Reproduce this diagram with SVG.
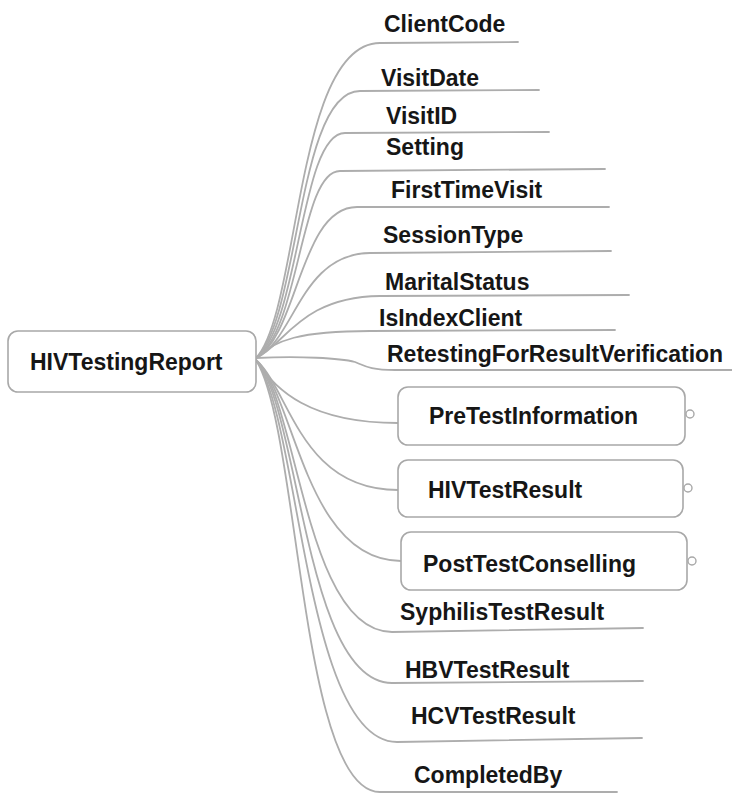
<svg xmlns="http://www.w3.org/2000/svg" width="732" height="794" viewBox="0 0 732 794">
  <style>
    .bg { fill: #ffffff; }
    .link { fill: none; stroke: #adadad; stroke-width: 1.8; stroke-linecap: round; }
    .box { fill: #ffffff; stroke: #a8a8a8; stroke-width: 1.6; }
    .knob { fill: #ffffff; stroke: #a8a8a8; stroke-width: 1.4; }
    .label { font-family: "Liberation Sans", Arial, sans-serif; font-weight: bold; font-size: 23px; fill: #161616; }
  </style>
  <rect class="bg" x="0" y="0" width="732" height="794"/>

  <!-- connectors from the root node -->
  <g id="connectors">
    <path class="link" d="M256,358 C300,311 295,43 380,43 L518,42"/>
    <path class="link" d="M256,358 C300,318 297,91 360,91 L539,90"/>
    <path class="link" d="M256,358 C300,324 300,133 345,133 L549,132"/>
    <path class="link" d="M256,358 C300,330 300,171 340,171 L605,169"/>
    <path class="link" d="M256,358 C298,335 300,207 357,207 L609,207"/>
    <path class="link" d="M256,358 C295,340 300,254 370,253 L611,251"/>
    <path class="link" d="M256,358 C285,345 300,297 380,296 L629,295"/>
    <path class="link" d="M256,358 C275,340 300,331 370,331 L615,330"/>
    <path class="link" d="M256,358 C300,356 340,358 355,362 C365,366 370,370 395,370 L732,370"/>
    <path class="link" d="M256,360 C275,390 310,423 398,423"/>
    <path class="link" d="M256,360 C290,390 300,490 398,490"/>
    <path class="link" d="M256,360 C295,395 305,561 401,561"/>
    <path class="link" d="M256,360 C298,400 305,632 392,632 L643,628"/>
    <path class="link" d="M256,360 C300,410 305,683 392,683 L643,681"/>
    <path class="link" d="M256,360 C300,420 305,742 397,742 L642,738"/>
    <path class="link" d="M256,360 C300,430 300,792 380,792 L617,792"/>
  </g>

  <!-- root -->
  <g id="root">
    <rect class="box" x="8" y="331" width="248" height="61" rx="10"/>
    <text class="label" x="30" y="370">HIVTestingReport</text>
  </g>

  <!-- leaf attributes -->
  <g id="client-code"><text class="label" x="384" y="32">ClientCode</text></g>
  <g id="visit-date"><text class="label" x="381" y="86">VisitDate</text></g>
  <g id="visit-id"><text class="label" x="386" y="124">VisitID</text></g>
  <g id="setting"><text class="label" x="386" y="155">Setting</text></g>
  <g id="first-time-visit"><text class="label" x="391" y="198">FirstTimeVisit</text></g>
  <g id="session-type"><text class="label" x="383" y="243">SessionType</text></g>
  <g id="marital-status"><text class="label" x="385" y="290">MaritalStatus</text></g>
  <g id="is-index-client"><text class="label" x="379" y="326">IsIndexClient</text></g>
  <g id="retesting"><text class="label" x="387" y="362">RetestingForResultVerification</text></g>

  <!-- collapsed sub-topics -->
  <g id="pre-test-information">
    <rect class="box" x="398" y="387" width="287" height="58" rx="10"/>
    <text class="label" x="429" y="424">PreTestInformation</text>
    <circle class="knob" cx="690" cy="414" r="4"/>
  </g>
  <g id="hiv-test-result">
    <rect class="box" x="398" y="460" width="285" height="57" rx="10"/>
    <text class="label" x="428" y="498">HIVTestResult</text>
    <circle class="knob" cx="688" cy="488" r="4"/>
  </g>
  <g id="post-test-conselling">
    <rect class="box" x="401" y="532" width="286" height="58" rx="10"/>
    <text class="label" x="423" y="572">PostTestConselling</text>
    <circle class="knob" cx="692" cy="561" r="4"/>
  </g>

  <g id="syphilis-test-result"><text class="label" x="400" y="620">SyphilisTestResult</text></g>
  <g id="hbv-test-result"><text class="label" x="405" y="678">HBVTestResult</text></g>
  <g id="hcv-test-result"><text class="label" x="411" y="724">HCVTestResult</text></g>
  <g id="completed-by"><text class="label" x="414" y="783">CompletedBy</text></g>
</svg>
